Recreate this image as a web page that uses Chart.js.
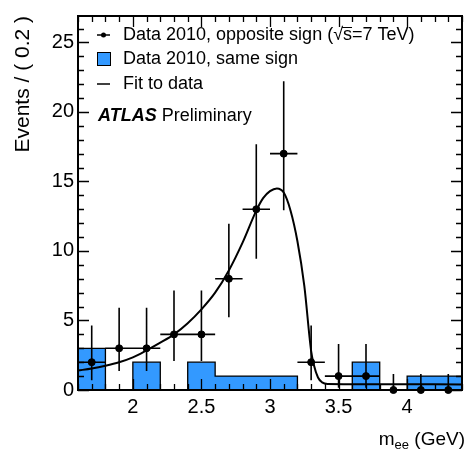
<!DOCTYPE html>
<html>
<head>
<meta charset="utf-8">
<script src="https://cdn.jsdelivr.net/npm/chart.js@4/dist/chart.umd.min.js"></script>
<style>
  body { margin: 0; background: #fff; }
  canvas { display: block; }
</style>
</head>
<body>
<canvas id="massChart" width="467" height="454"></canvas>
<script>
// opposite sign data, bin centres (bin width 0.2 GeV)
var binCentres = [1.7, 1.9, 2.1, 2.3, 2.5, 2.7, 2.9, 3.1, 3.3, 3.5, 3.7, 3.9, 4.1, 4.3];
var oppositeSign = [2, 3, 3, 4, 4, 8, 13, 17, 2, 1, 1, 0, 0, 0];
var errLow = [1.29, 1.63, 1.63, 1.91, 1.91, 2.77, 3.56, 4.08, 1.29, 0.83, 0.83, 0, 0, 0];
var errHigh = [2.64, 2.92, 2.92, 3.16, 3.16, 3.95, 4.67, 5.20, 2.64, 2.30, 2.30, 1.15, 1.15, 1.15];

// same sign histogram (left bin edges + last edge)
var binEdges = [1.6, 1.8, 2.0, 2.2, 2.4, 2.6, 2.8, 3.0, 3.2, 3.4, 3.6, 3.8, 4.0, 4.2, 4.4];
var sameSign = [3, 0, 2, 0, 2, 1, 1, 1, 0, 0, 2, 0, 1, 1];

// fit curve
var fitX = [1.6, 1.7, 1.8, 1.9, 2.0, 2.1, 2.2, 2.3, 2.4, 2.5, 2.6, 2.7, 2.8, 2.9, 2.95, 3.0, 3.05, 3.1, 3.15, 3.2, 3.25, 3.3, 3.32, 3.35, 3.38, 3.42, 3.6, 4.0, 4.4];
var fitY = [1.4, 1.55, 1.75, 2.0, 2.35, 2.85, 3.4, 4.0, 4.8, 5.8, 7.0, 8.6, 10.6, 12.9, 13.8, 14.3, 14.5, 14.2, 12.9, 10.7, 7.5, 2.8, 1.8, 0.9, 0.55, 0.43, 0.42, 0.41, 0.4];

var xTicks = [2, 2.5, 3, 3.5, 4];
var yTicks = [0, 5, 10, 15, 20, 25];
var legendLabels = ['Data 2010, opposite sign (\u221As=7 TeV)', 'Data 2010, same sign', 'Fit to data'];

var FONT = '"Liberation Sans", Arial, Helvetica, sans-serif';
var BLUE = '#3399ff';

var histPoints = sameSign.map(function (v, i) { return { x: binEdges[i], y: v }; });
histPoints.push({ x: binEdges[binEdges.length - 1], y: sameSign[sameSign.length - 1] });

var errPoints = [];
binCentres.forEach(function (c, i) {
    var v = oppositeSign[i];
    errPoints.push({ x: c, y: v - errLow[i] }, { x: c, y: v + errHigh[i] }, { x: c, y: null });
    errPoints.push({ x: c - 0.1, y: v }, { x: c + 0.1, y: v }, { x: c, y: null });
});

var dataPoints = binCentres.map(function (c, i) { return { x: c, y: oppositeSign[i] }; });
var fitPoints = fitX.map(function (x, i) { return { x: x, y: fitY[i] }; });

// frame, inward ticks, legend and x title drawn on top of the datasets
var framePlugin = {
    id: 'frame',
    afterDatasetsDraw: function (chart) {
        var ctx = chart.ctx, a = chart.chartArea;
        var xs = chart.scales.x, ys = chart.scales.y;
        ctx.save();
        ctx.strokeStyle = '#000';
        ctx.lineWidth = 1.3;
        ctx.beginPath();
        for (var t = 16; t <= 44; t++) {
            var px = Math.round(xs.getPixelForValue(t / 10)) + 0.5;
            var len = (t % 5 === 0) ? 11 : 6;
            ctx.moveTo(px, a.bottom); ctx.lineTo(px, a.bottom - len);
            ctx.moveTo(px, a.top); ctx.lineTo(px, a.top + len);
        }
        for (var k = 0; k <= 26; k++) {
            var py = Math.round(ys.getPixelForValue(k)) + 0.5;
            var l2 = (k % 5 === 0) ? 11 : 6;
            ctx.moveTo(a.left, py); ctx.lineTo(a.left + l2, py);
            ctx.moveTo(a.right, py); ctx.lineTo(a.right - l2, py);
        }
        ctx.stroke();
        ctx.lineWidth = 2;
        ctx.strokeRect(a.left, a.top, a.right - a.left, a.bottom - a.top);

        // legend
        ctx.fillStyle = '#000';
        ctx.font = '18px ' + FONT;
        ctx.textBaseline = 'middle';
        ctx.textAlign = 'left';
        var tx = 123;
        ctx.lineWidth = 1.5;
        ctx.beginPath(); ctx.moveTo(97, 35); ctx.lineTo(110, 35); ctx.stroke();
        ctx.beginPath(); ctx.arc(103.5, 35, 2.5, 0, Math.PI * 2); ctx.fill();
        ctx.fillText(legendLabels[0], tx, 35);
        // overline on the s of sqrt(s)
        var pre = ctx.measureText('Data 2010, opposite sign (\u221A').width;
        var sw = ctx.measureText('s').width;
        ctx.lineWidth = 1;
        ctx.beginPath(); ctx.moveTo(tx + pre - 1, 27.5); ctx.lineTo(tx + pre + sw, 27.5); ctx.stroke();

        ctx.fillStyle = BLUE;
        ctx.fillRect(97, 52, 14, 14);
        ctx.strokeStyle = '#000';
        ctx.lineWidth = 1;
        ctx.strokeRect(97.5, 52.5, 13, 13);
        ctx.fillStyle = '#000';
        ctx.fillText(legendLabels[1], tx, 59);

        ctx.lineWidth = 1.5;
        ctx.beginPath(); ctx.moveTo(97, 84); ctx.lineTo(110, 84); ctx.stroke();
        ctx.fillText(legendLabels[2], tx, 84);

        ctx.font = 'italic bold 18px ' + FONT;
        ctx.fillText('ATLAS', 98, 116);
        var aw = ctx.measureText('ATLAS').width;
        ctx.font = '18px ' + FONT;
        ctx.fillText(' Preliminary', 98 + aw, 116);

        // x axis title with subscript
        ctx.textBaseline = 'alphabetic';
        ctx.font = '19px ' + FONT;
        var w1 = ctx.measureText('m').width;
        var w3 = ctx.measureText(' (GeV)').width;
        ctx.font = '13px ' + FONT;
        var w2 = ctx.measureText('ee').width;
        var x0 = 465 - (w1 + w2 + w3);
        ctx.font = '19px ' + FONT;
        ctx.fillText('m', x0, 445);
        ctx.fillText(' (GeV)', x0 + w1 + w2, 445);
        ctx.font = '13px ' + FONT;
        ctx.fillText('ee', x0 + w1, 449);
        ctx.restore();
    }
};

new Chart(document.getElementById('massChart'), {
    type: 'line',
    data: {
        datasets: [
            {
                label: 'Data 2010, same sign',
                data: histPoints,
                stepped: 'before',
                fill: 'origin',
                backgroundColor: BLUE,
                borderColor: '#000',
                borderWidth: 1.3,
                pointRadius: 0,
                order: 3
            },
            {
                label: 'errors',
                data: errPoints,
                borderColor: '#000',
                borderWidth: 1.6,
                pointRadius: 0,
                spanGaps: false,
                clip: false,
                order: 2
            },
            {
                label: 'Fit to data',
                data: fitPoints,
                borderColor: '#000',
                borderWidth: 2,
                pointRadius: 0,
                cubicInterpolationMode: 'monotone',
                order: 1
            },
            {
                label: 'Data 2010, opposite sign',
                data: dataPoints,
                showLine: false,
                pointRadius: 3.5,
                pointBackgroundColor: '#000',
                pointBorderColor: '#000',
                clip: false,
                order: 0
            }
        ]
    },
    options: {
        responsive: false,
        animation: false,
        events: [],
        layout: { padding: { top: 12, right: 1, left: 0, bottom: 0 } },
        plugins: { legend: { display: false }, tooltip: { enabled: false } },
        scales: {
            x: {
                type: 'linear',
                min: 1.6,
                max: 4.4,
                grid: { display: false, drawTicks: false },
                border: { display: false },
                afterBuildTicks: function (scale) {
                    scale.ticks = xTicks.map(function (v) { return { value: v }; });
                },
                afterFit: function (scale) { scale.height = 64; },
                ticks: {
                    padding: 5,
                    color: '#000',
                    font: { family: FONT, size: 20 },
                    maxRotation: 0,
                    callback: function (value) { return String(value); }
                }
            },
            y: {
                type: 'linear',
                min: 0,
                max: 26.9,
                grid: { display: false, drawTicks: false },
                border: { display: false },
                afterBuildTicks: function (scale) {
                    scale.ticks = yTicks.map(function (v) { return { value: v }; });
                },
                afterFit: function (scale) { scale.width = 78; },
                title: {
                    display: true,
                    text: 'Events / ( 0.2 )',
                    align: 'end',
                    color: '#000',
                    font: { family: FONT, size: 21 },
                    padding: { top: 11, bottom: 0 }
                },
                ticks: {
                    padding: 4,
                    color: '#000',
                    font: { family: FONT, size: 20 },
                    callback: function (value) { return String(value); }
                }
            }
        }
    },
    plugins: [framePlugin]
});
</script>
</body>
</html>
